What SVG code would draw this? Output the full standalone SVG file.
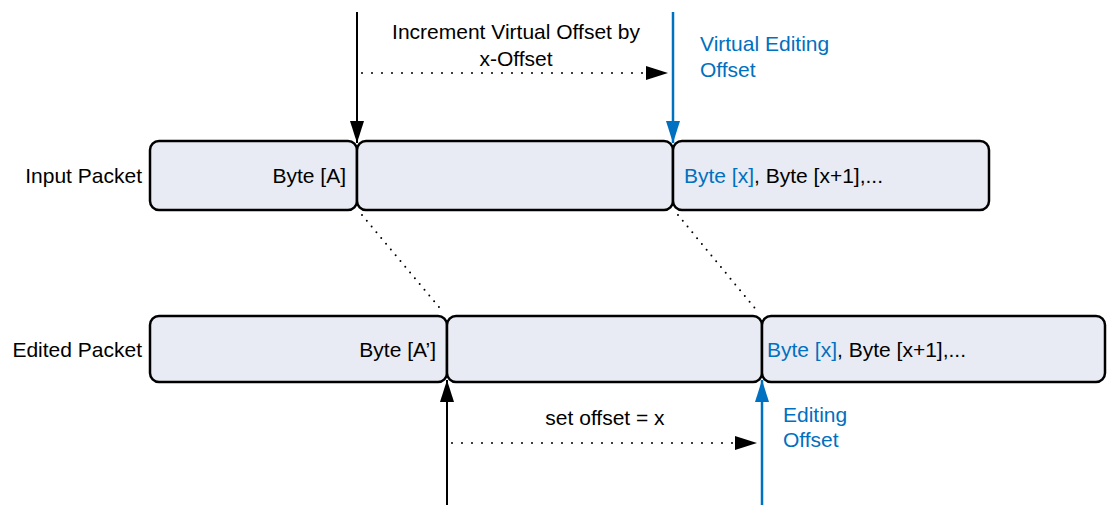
<svg xmlns="http://www.w3.org/2000/svg" width="1107" height="505" viewBox="0 0 1107 505">
<style>
.box{fill:#E8EBF3;stroke:#000;stroke-width:2.5}
.t{font-family:"Liberation Sans",Arial,sans-serif;font-size:21px;fill:#000}
.b{fill:#0070C0}
.ln{stroke:#000;stroke-width:2;fill:none}
.lnb{stroke:#0070C0;stroke-width:2.5;fill:none}
.dot{stroke:#000;stroke-width:2;fill:none;stroke-dasharray:0 10;stroke-linecap:round}
.dd{stroke:#000;stroke-width:2;fill:none;stroke-dasharray:0 7.5;stroke-linecap:round}
</style>
<defs>
<marker id="ak" markerWidth="24" markerHeight="14" refX="22" refY="7" orient="auto" markerUnits="userSpaceOnUse"><path d="M0,0 L22,7 L0,14 Z" fill="#000"/></marker>
<marker id="ab" markerWidth="24" markerHeight="14" refX="22" refY="7" orient="auto" markerUnits="userSpaceOnUse"><path d="M0,0 L22,7 L0,14 Z" fill="#0070C0"/></marker>
</defs>
<g id="input-label"><text class="t" x="142" y="183" text-anchor="end">Input Packet</text></g>
<g id="edited-label"><text class="t" x="142" y="357" text-anchor="end">Edited Packet</text></g>
<g id="in-box1"><rect class="box" x="150" y="141" width="207" height="69" rx="9"/><text class="t" x="346" y="183" text-anchor="end">Byte [A]</text></g>
<g id="in-box2"><rect class="box" x="357" y="141" width="316" height="69" rx="9"/></g>
<g id="in-box3"><rect class="box" x="673" y="141" width="316" height="69" rx="9"/><text class="t" x="684" y="183"><tspan class="b">Byte [x]</tspan>, Byte [x+1],...</text></g>
<g id="ed-box1"><rect class="box" x="150" y="316" width="297" height="66" rx="9"/><text class="t" x="436" y="357" text-anchor="end">Byte [A’]</text></g>
<g id="ed-box2"><rect class="box" x="447" y="316" width="315" height="66" rx="9"/></g>
<g id="ed-box3"><rect class="box" x="762" y="316" width="343" height="66" rx="9"/><text class="t" x="767" y="357"><tspan class="b">Byte [x]</tspan>, Byte [x+1],...</text></g>
<g id="connectors">
<line class="ln" x1="357" y1="12" x2="357" y2="143" marker-end="url(#ak)"/>
<line class="lnb" x1="673" y1="12" x2="673" y2="143" marker-end="url(#ab)"/>
<line class="dot" x1="362" y1="73" x2="648" y2="73"/>
<path d="M646,66 L668,73 L646,80 Z" fill="#000"/>
<line class="ln" x1="447" y1="505" x2="447" y2="380" marker-end="url(#ak)"/>
<line class="lnb" x1="762" y1="505" x2="762" y2="380" marker-end="url(#ab)"/>
<line class="dot" x1="452" y1="443" x2="736" y2="443"/>
<path d="M735,436 L757,443 L735,450 Z" fill="#000"/>
<line class="dd" x1="362" y1="215" x2="443" y2="312"/>
<line class="dd" x1="678" y1="215" x2="758" y2="312"/>
</g>
<g id="labels">
<text class="t" x="516" y="39" text-anchor="middle">Increment Virtual Offset by</text>
<text class="t" x="516" y="66" text-anchor="middle">x-Offset</text>
<text class="t b" x="700" y="51">Virtual Editing</text>
<text class="t b" x="700" y="77">Offset</text>
<text class="t" x="605" y="425" text-anchor="middle">set offset = x</text>
<text class="t b" x="783" y="422">Editing</text>
<text class="t b" x="783" y="447">Offset</text>
</g>
</svg>
